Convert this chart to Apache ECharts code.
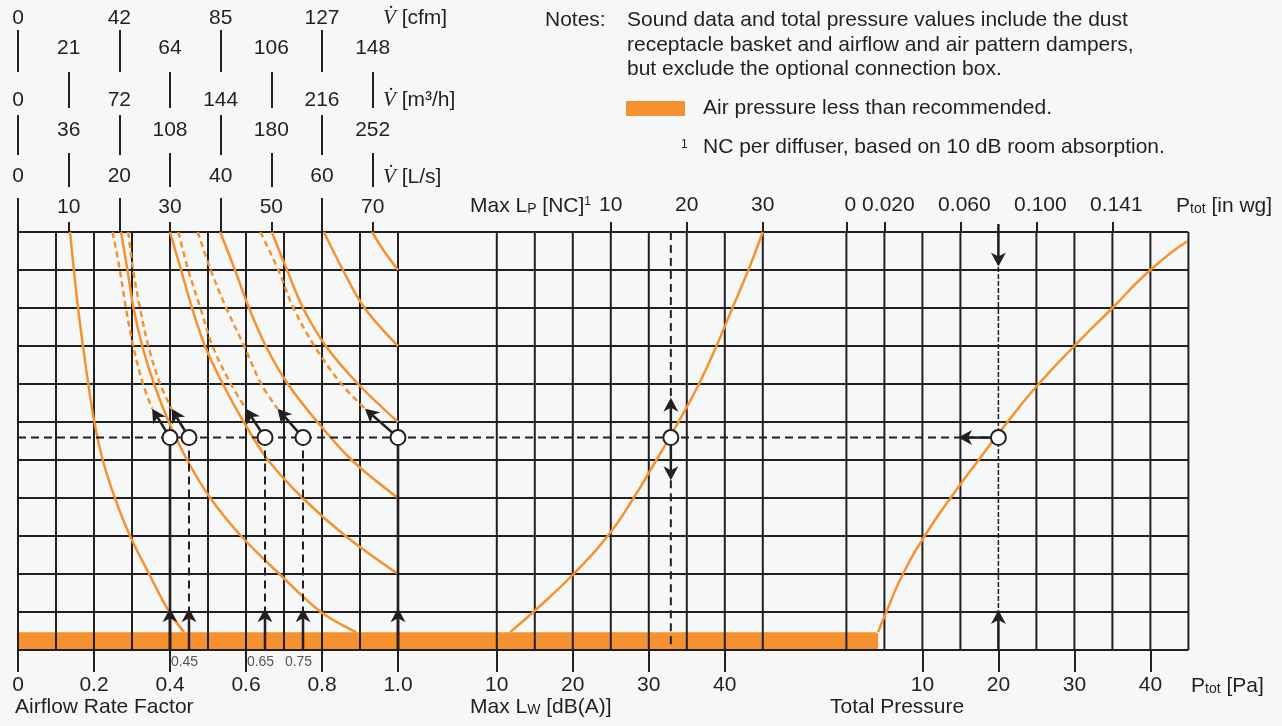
<!DOCTYPE html>
<html><head><meta charset="utf-8">
<script src="https://cdn.jsdelivr.net/npm/echarts@6/dist/echarts.min.js"></script>
<style>html,body{margin:0;padding:0;background:#f6f8f8;}#c{width:1282px;height:726px;}</style>
</head><body><div id="c"></div>
<script>
// ---------------- DATA ----------------
// top airflow scales (positions in L/s)
const lsEven = [0, 20, 40, 60];
const lsOdd = [10, 30, 50, 70];
const cfmEven = ['0', '42', '85', '127'];
const cfmOdd = ['21', '64', '106', '148'];
const m3hEven = ['0', '72', '144', '216'];
const m3hOdd = ['36', '108', '180', '252'];
const lsEvenLabels = ['0', '20', '40', '60'];
const lsOddLabels = ['10', '30', '50', '70'];
// bottom / top tick values
const factorTicks = [0, 0.2, 0.4, 0.6, 0.8, 1.0];
const factorTickLabels = ['0', '0.2', '0.4', '0.6', '0.8', '1.0'];
const factorMarks = [0.45, 0.65, 0.75];
const factorMarkLabels = ['0.45', '0.65', '0.75'];
const lwTicks = [10, 20, 30, 40];
const ncTicks = [10, 20, 30];
const paTicks = [10, 20, 30, 40];
const inwgAtPa = [0, 5, 15, 25, 35];
const inwgLabels = ['0', '0.020', '0.060', '0.100', '0.141'];
// grid lines
const factorGrid = [0, 0.1, 0.2, 0.3, 0.4, 0.5, 0.6, 0.7, 0.8, 0.9, 1.0];
const lwGrid = [10, 15, 20, 25, 30, 35, 40, 45];
const paGrid = [0, 5, 10, 15, 25, 30, 35, 40, 45];
const rowLines = [0, 1, 2, 3, 4, 5, 6, 7, 8, 9, 10, 11];
// airflow-rate-factor curves (factor values at rows)
const yRows = [11, 10, 9, 8, 7, 6, 5, 4, 3, 2, 1, 0.47];
const s1 = [0.137, 0.147, 0.158, 0.171, 0.185, 0.201, 0.223, 0.255, 0.295, 0.345, 0.398, 0.437];
const s2 = [0.271, 0.288, 0.304, 0.327, 0.358, 0.397, 0.445, 0.506, 0.587, 0.688, 0.797, 0.890];
const s3 = [0.400, 0.429, 0.458, 0.492, 0.539, 0.594, 0.658, 0.749, 0.862, 1.000];
const s4 = [0.532, 0.571, 0.608, 0.652, 0.710, 0.788, 0.878, 1.000];
const s5 = [0.668, 0.708, 0.750, 0.810, 0.895, 1.000];
const s6 = [0.805, 0.855, 0.912, 1.000];
const s7Rows = [11, 10.5, 10];
const s7 = [0.932, 0.963, 1.000];
const dashRows = [11, 10, 9, 8, 7, 6.35];
const d1 = [0.249, 0.268, 0.284, 0.303, 0.329, 0.353];
const d2 = [0.290, 0.303, 0.321, 0.343, 0.374, 0.404];
const d3 = [0.422, 0.448, 0.480, 0.512, 0.560, 0.600];
const d4 = [0.473, 0.507, 0.548, 0.595, 0.640, 0.683];
const d5 = [0.638, 0.685, 0.725, 0.780, 0.851, 0.913];
// sound power curve
const lwRows = [0.47, 1, 2, 3, 4, 5, 6, 7, 8, 9, 10, 11];
const lwCurve = [11.75, 14.8, 20.1, 24.6, 28.0, 31.0, 33.9, 36.6, 38.9, 41.0, 43.1, 45.0];
// total pressure curve
const paRows = [0.47, 1, 2, 3, 4, 5, 6, 7, 8, 9, 10, 10.75];
const paCurve = [4.18, 5.25, 7.45, 10.3, 13.7, 17.4, 21.2, 25.3, 30.0, 35.0, 40.0, 44.8];
// example reading
const yRef = 5.59;
const circleFactors = [0.4, 0.45, 0.65, 0.75, 1.0];
const lwReading = 32.9;
const lwArrowUp = 6.64, lwArrowDown = 4.47;
const paReading = 20;
const paArrowLeft = 14.7;
const paArrowTopFrom = 11.21, paArrowTopTo = 10.09;
const bottomArrowTo = 1.1;
const lowBandTop = 0.47;
const lowBandEndPa = 4.18;

// ---------------- STYLE / LAYOUT ----------------
const FONT = "'Liberation Sans', Arial, Helvetica, sans-serif";
const TXT = '#231f20', INK = '#231f20', ORANGE = '#f5922f';
const GL = 18, GT = 232, GW = 1170.4, GH = 418;
const FAC = [0, 3.08], LW = [-53, 101], NC = [-68, 86], PA = [-109, 45], LS = [0, 231];

function pick(vals, labels) {
  return v => { for (let i = 0; i < vals.length; i++) if (Math.abs(vals[i] - v) < 1e-6) return labels[i]; return ''; };
}
function axis(range, pos, o) {
  const a = {
    type: 'value', gridIndex: 0, min: range[0], max: range[1], position: pos,
    axisLine: { show: false, onZero: false }, splitLine: { show: false },
    axisTick: { show: false }, axisLabel: { show: false }
  };
  return Object.assign(a, o || {});
}
function ticks(vals, len) {
  return { show: true, customValues: vals, length: len, lineStyle: { color: INK, width: 2 } };
}
function labels(vals, texts, margin, extra) {
  return Object.assign({ show: true, customValues: vals, formatter: pick(vals, texts), margin: margin,
    fontSize: 21, fontFamily: FONT, color: TXT }, extra || {});
}

const xAxes = [];
// 0 factor bottom
xAxes.push(axis(FAC, 'bottom', { axisTick: ticks(factorTicks, 22), axisLabel: labels(factorTicks, factorTickLabels, 25) }));
// 1 factor small marks
xAxes.push(axis(FAC, 'bottom', { axisLabel: labels(factorMarks, factorMarkLabels, 5, { fontSize: 14, color: '#555', padding: [0, 9, 0, 0] }) }));
// 2 Lw bottom
xAxes.push(axis(LW, 'bottom', { axisTick: ticks(lwTicks, 22), axisLabel: labels(lwTicks, lwTicks.map(String), 25) }));
// 3 Pa bottom
xAxes.push(axis(PA, 'bottom', { axisTick: ticks(paTicks, 22), axisLabel: labels(paTicks, paTicks.map(String), 25) }));
// 4 NC top
xAxes.push(axis(NC, 'top', { axisTick: ticks(ncTicks, 10), axisLabel: labels(ncTicks, ncTicks.map(String), 16) }));
// 5 in wg top
xAxes.push(axis(PA, 'top', { axisTick: ticks(inwgAtPa, 10), axisLabel: labels(inwgAtPa, inwgLabels, 16, { padding: [0, 0, 0, 8] }) }));
// 6..11 airflow rows
const topRows = [
  { pos: lsEven, txt: cfmEven, axisY: 72, len: 42, cy: 18 },
  { pos: lsOdd, txt: cfmOdd, axisY: 108, len: 36, cy: 48 },
  { pos: lsEven, txt: m3hEven, axisY: 155, len: 40, cy: 100 },
  { pos: lsOdd, txt: m3hOdd, axisY: 187, len: 34, cy: 130 },
  { pos: lsEven, txt: lsEvenLabels, axisY: 232, len: 34, cy: 176 },
  { pos: lsOdd, txt: lsOddLabels, axisY: 232, len: 10, cy: 207 }
];
topRows.forEach(r => {
  xAxes.push(axis(LS, 'top', { offset: GT - r.axisY, axisTick: ticks(r.pos, r.len),
    axisLabel: labels(r.pos, r.txt, r.axisY - r.cy - 10.5) }));
});

// ---------------- SERIES HELPERS ----------------
function segSeries(xIdx, segs, style, z) {
  return {
    type: 'custom', xAxisIndex: xIdx, yAxisIndex: 0, z: z, clip: false, silent: true,
    data: segs, encode: { x: [0, 2], y: [1, 3] },
    renderItem: (p, api) => {
      const a = api.coord([api.value(0), api.value(1)]);
      const b = api.coord([api.value(2), api.value(3)]);
      return { type: 'line', shape: { x1: a[0], y1: a[1], x2: b[0], y2: b[1] },
        style: Object.assign({ stroke: INK, lineWidth: 2, fill: null }, style) };
    }
  };
}
function arrowSeries(xIdx, arrows, z) {
  return {
    type: 'custom', xAxisIndex: xIdx, yAxisIndex: 0, z: z, clip: false, silent: true,
    data: arrows, encode: { x: [0, 2], y: [1, 3] },
    renderItem: (p, api) => {
      const a = api.coord([api.value(0), api.value(1)]);
      const b = api.coord([api.value(2), api.value(3)]);
      const dx = b[0] - a[0], dy = b[1] - a[1], L = Math.hypot(dx, dy) || 1;
      const ux = dx / L, uy = dy / L, px = -uy, py = ux;
      const HL = 14, HW = 7.5, N = 4;
      const base = [b[0] - ux * HL, b[1] - uy * HL];
      const notch = [b[0] - ux * (HL - N), b[1] - uy * (HL - N)];
      return { type: 'group', children: [
        { type: 'line', shape: { x1: a[0], y1: a[1], x2: notch[0], y2: notch[1] }, style: { stroke: INK, lineWidth: 2.5 } },
        { type: 'polygon', shape: { points: [b, [base[0] + px * HW, base[1] + py * HW], notch, [base[0] - px * HW, base[1] - py * HW]] }, style: { fill: INK } }
      ] };
    }
  };
}
function curve(xIdx, xs, ys, dashed, sm) {
  return {
    type: 'line', xAxisIndex: xIdx, yAxisIndex: 0, data: xs.map((x, i) => [x, ys[i]]),
    showSymbol: false, symbol: 'none', smooth: sm || 0.35, z: 5, silent: true,
    lineStyle: { color: ORANGE, width: 2.5, type: dashed ? [6, 4] : 'solid' }
  };
}
function circles(xIdx, pts) {
  return { type: 'scatter', xAxisIndex: xIdx, yAxisIndex: 0, data: pts, symbol: 'circle', symbolSize: 15, z: 12, silent: true,
    itemStyle: { color: '#ffffff', borderColor: INK, borderWidth: 2, opacity: 1 } };
}

const series = [];
// low pressure band
series.push({
  type: 'custom', xAxisIndex: 3, yAxisIndex: 0, z: 1, silent: true, clip: false,
  data: [[PA[0], 0, lowBandEndPa, lowBandTop]], encode: { x: [0, 2], y: [1, 3] },
  renderItem: (p, api) => {
    const a = api.coord([api.value(0), api.value(3)]);
    const b = api.coord([api.value(2), api.value(1)]);
    return { type: 'rect', shape: { x: a[0], y: a[1], width: b[0] - a[0], height: b[1] - a[1], r: [0, 3, 3, 0] }, style: { fill: ORANGE } };
  }
});
// grid lines
series.push(segSeries(0, factorGrid.map(f => [f, 0, f, 11]), {}, 3));
series.push(segSeries(2, lwGrid.map(v => [v, 0, v, 11]), {}, 3));
series.push(segSeries(3, paGrid.map(v => [v, 0, v, 11]), {}, 3));
series.push(segSeries(3, rowLines.map(y => [PA[0], y, PA[1], y]), {}, 3));
// curves
[s1, s2].forEach(s => series.push(curve(0, s, yRows, false)));
[s3, s4, s5, s6].forEach(s => series.push(curve(0, s, yRows.slice(0, s.length), false)));
series.push(curve(0, s7, s7Rows, false));
[d1, d2, d3, d4, d5].forEach(d => series.push(curve(0, d, dashRows, true)));
series.push(curve(2, lwCurve, lwRows, false, 0.5));
series.push(curve(3, paCurve, paRows, false, 0.6));
// guide lines
const dash = { lineDash: [8, 5], lineWidth: 2 };
series.push(segSeries(3, [[PA[0], yRef, paReading, yRef]], dash, 6));
series.push(segSeries(0, factorMarks.map(f => [f, yRef, f, 0.9]), dash, 6));
series.push(segSeries(0, [[0.4, 0, 0.4, yRef], [1.0, 0, 1.0, yRef]], { lineWidth: 2.6 }, 6));
series.push(segSeries(2, [[lwReading, 11, lwReading, lwArrowUp - 0.1], [lwReading, lwArrowDown, lwReading, 0]], dash, 6));
series.push(segSeries(3, [[paReading, 11, paReading, 0]], { lineDash: [5, 2], lineWidth: 1.5 }, 6));
// arrows
const dEnds = [d1, d2, d3, d4, d5].map(d => d[d.length - 1]);
series.push(arrowSeries(0, circleFactors.map((f, i) => [f, yRef, dEnds[i], dashRows[dashRows.length - 1]]), 8));
series.push(arrowSeries(0, circleFactors.map(f => [f, 0, f, bottomArrowTo]), 8));
series.push(arrowSeries(2, [[lwReading, yRef, lwReading, lwArrowUp], [lwReading, yRef, lwReading, lwArrowDown]], 8));
series.push(arrowSeries(3, [[paReading, paArrowTopFrom, paReading, paArrowTopTo], [paReading, 0, paReading, bottomArrowTo - 0.05], [paReading, yRef, paArrowLeft, yRef]], 8));
// circles
series.push(circles(0, circleFactors.map(f => [f, yRef])));
series.push(circles(2, [[lwReading, yRef]]));
series.push(circles(3, [[paReading, yRef]]));

// ---------------- TEXT ----------------
const vDot = { fontFamily: "'Liberation Serif', 'DejaVu Serif', serif", fontStyle: 'italic', fontSize: 21 };
const sub = { fontSize: 14, fontFamily: FONT, verticalAlign: 'bottom', padding: [0, 0, 0, 0] };
const sup = { fontSize: 12, fontFamily: FONT, verticalAlign: 'top' };
function txt(x, y, text, extra, rich) {
  return { type: 'text', x: x, y: y, silent: true,
    style: Object.assign({ text: text, fontSize: 21, fontFamily: FONT, fill: TXT, verticalAlign: 'middle', align: 'left', rich: rich || {} }, extra || {}) };
}
const rich = { v: vDot, sub: sub, sup: sup };
const graphic = [
  txt(383, 18, '{v|V\u0307} [cfm]', {}, rich),
  txt(383, 100, '{v|V\u0307} [m\u00b3/h]', {}, rich),
  txt(383, 177, '{v|V\u0307} [L/s]', {}, rich),
  txt(470, 206, 'Max L{sub|P} [NC]{sup|1}', {}, rich),
  txt(1176, 206, 'P{sub|tot} [in wg]', {}, rich),
  txt(1191, 686, 'P{sub|tot} [Pa]', {}, rich),
  txt(15, 707, 'Airflow Rate Factor'),
  txt(470, 707, 'Max L{sub|W} [dB(A)]', {}, rich),
  txt(830, 707, 'Total Pressure'),
  txt(545, 20, 'Notes:'),
  txt(627, 20, 'Sound data and total pressure values include the dust'),
  txt(627, 45, 'receptacle basket and airflow and air pattern dampers,'),
  txt(627, 69, 'but exclude the optional connection box.'),
  { type: 'rect', x: 626, y: 101, shape: { width: 59, height: 15 }, style: { fill: ORANGE }, silent: true },
  txt(703, 108, 'Air pressure less than recommended.'),
  txt(681, 145, '1', { fontSize: 12 }),
  txt(703, 147, 'NC per diffuser, based on 10 dB room absorption.')
];

const chart = echarts.init(document.getElementById('c'), null, { width: 1282, height: 726 });
chart.setOption({
  backgroundColor: '#f6f8f8',
  animation: false,
  grid: { left: GL, top: GT, width: GW, height: GH, show: false },
  xAxis: xAxes,
  yAxis: { type: 'value', min: 0, max: 11, show: false, axisLine: { onZero: false } },
  series: series,
  graphic: graphic
});
</script></body></html>
